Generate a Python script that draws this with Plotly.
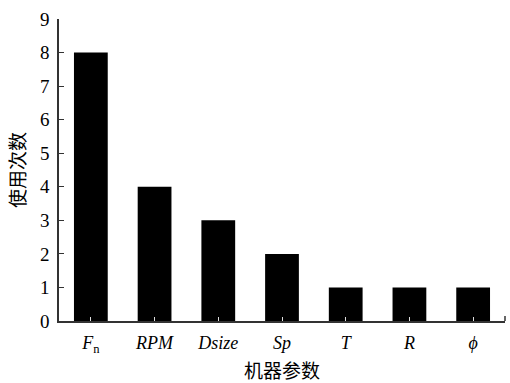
import plotly.graph_objects as go

# Machine parameters and how often each one is used
params = ["<i>F</i><sub>n</sub>", "<i>RPM</i>", "<i>Dsize</i>", "<i>Sp</i>", "<i>T</i>", "<i>R</i>", "<i>ϕ</i>"]
counts = [8, 4, 3, 2, 1, 1, 1]
y_ticks = list(range(0, 10))

serif = "Liberation Serif"
cjk = "Noto Sans CJK SC"

fig = go.Figure(
    go.Bar(
        x=list(range(len(params))),
        y=counts,
        marker=dict(color="black", line=dict(width=0)),
        width=0.53,
    )
)

fig.update_layout(
    width=510,
    height=383,
    margin=dict(l=59, r=5, t=19, b=62),
    paper_bgcolor="white",
    plot_bgcolor="white",
    showlegend=False,
    font=dict(family=serif, size=16, color="black"),
)

fig.update_xaxes(
    automargin=False,
    range=[-0.5, 6.5],
    tickmode="array",
    tickvals=list(range(len(params))),
    ticktext=params,
    ticks="inside",
    ticklen=4,
    tickcolor="#ddd",
    tickwidth=1,
    ticklabelstandoff=5,
    showline=True,
    linecolor="#333",
    linewidth=1.5,
    showgrid=False,
    zeroline=False,
    tickfont=dict(family=serif, size=18),
    title=dict(text="机器参数", font=dict(family=cjk, size=19), standoff=13),
)

fig.update_yaxes(
    automargin=False,
    range=[0, 9],
    tickmode="array",
    tickvals=y_ticks,
    ticks="inside",
    ticklen=5,
    tickcolor="#333",
    ticklabelstandoff=4,
    showline=True,
    linecolor="#333",
    linewidth=1.5,
    showgrid=False,
    zeroline=False,
    tickfont=dict(family=serif, size=19),
    title=dict(text="使用次数", font=dict(family=cjk, size=19), standoff=9),
)

# small closing tick at the right end of the x axis
fig.add_shape(
    type="line", xref="paper", yref="y",
    x0=1, x1=1, y0=0, y1=0.15,
    line=dict(color="#333", width=1.5),
)

fig.write_html("out.html")
